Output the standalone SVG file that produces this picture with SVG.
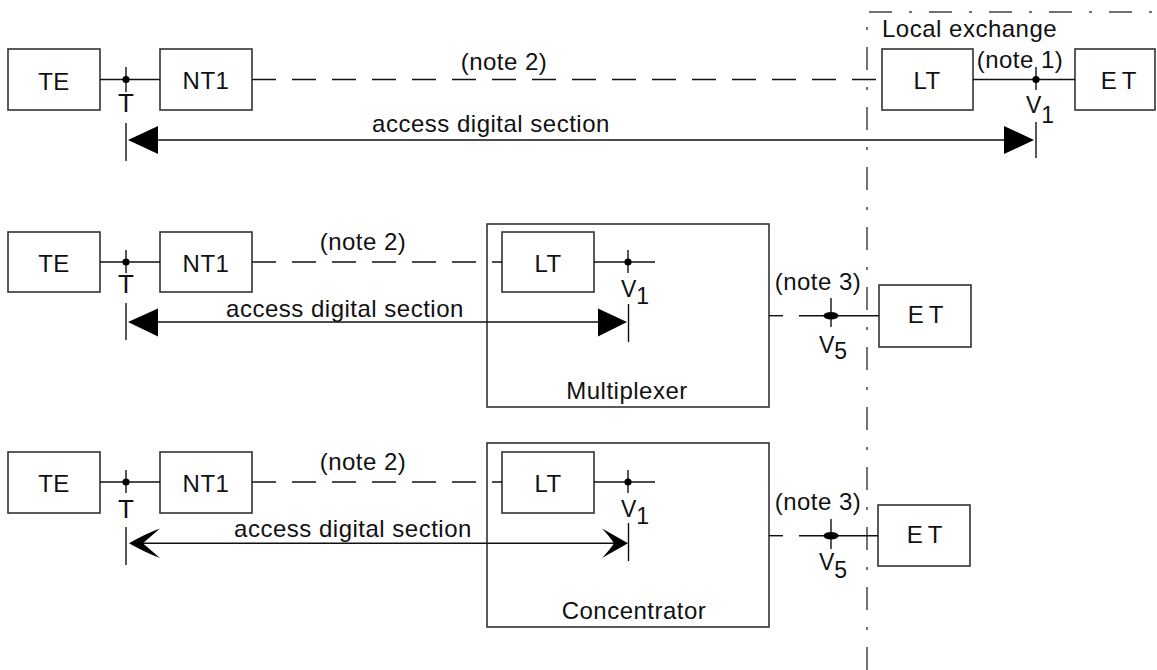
<svg xmlns="http://www.w3.org/2000/svg" width="1157" height="670" viewBox="0 0 1157 670">
  <defs>
    <style>
      .box { fill: #fff; stroke: #333; stroke-width: 1.6; }
      .ln { stroke: #111; stroke-width: 1.4; fill: none; }
      .dash { stroke: #111; stroke-width: 1.4; fill: none; stroke-dasharray: 24 16; }
      .dashdot { stroke: #444; stroke-width: 1.5; fill: none; stroke-dasharray: 23 17 3 17; }
      .t { font-family: "Liberation Sans", Arial, sans-serif; font-size: 24px; fill: #111; letter-spacing: 0.5px; }
      .c { text-anchor: middle; }
      .sp { letter-spacing: 5px; }
      .lbl { font-family: "Liberation Sans", Arial, sans-serif; font-size: 23px; fill: #111; }
      .big { font-size: 26px; }
      .head { fill: #000; stroke: none; }
    </style>
  </defs>

  <!-- exchange boundary (dash-dot) -->
  <g id="exchange-boundary">
    <path class="dashdot" d="M867,670 V12 H1157"/>
    <text class="t" x="882" y="37">Local exchange</text>
  </g>

  <!-- ===== row 1: direct access to local exchange ===== -->
  <g id="r1-te"><rect class="box" x="8" y="49" width="92" height="61"/><text class="t c" x="54" y="90">TE</text></g>
  <g id="r1-nt1"><rect class="box" x="160" y="49" width="92" height="61"/><text class="t c" x="206" y="89">NT1</text></g>
  <g id="r1-lt"><rect class="box" x="882" y="49" width="91" height="61"/><text class="t c" x="927" y="89">LT</text></g>
  <g id="r1-et"><rect class="box" x="1075" y="49" width="80" height="61"/><text class="t c sp" x="1121" y="89">ET</text></g>

  <!-- ===== row 2: multiplexer ===== -->
  <g id="r2-te"><rect class="box" x="8" y="232" width="92" height="60"/><text class="t c" x="54" y="272">TE</text></g>
  <g id="r2-nt1"><rect class="box" x="160" y="232" width="92" height="60"/><text class="t c" x="206" y="272">NT1</text></g>
  <g id="r2-mux"><rect class="box" x="487" y="224" width="282" height="183"/><text class="t c" x="627" y="399">Multiplexer</text></g>
  <g id="r2-lt"><rect class="box" x="502" y="232" width="92" height="60"/><text class="t c" x="548" y="272">LT</text></g>
  <g id="r2-et"><rect class="box" x="879" y="285" width="92" height="62"/><text class="t c sp" x="928" y="323">ET</text></g>

  <!-- ===== row 3: concentrator ===== -->
  <g id="r3-te"><rect class="box" x="8" y="452" width="92" height="61"/><text class="t c" x="54" y="492">TE</text></g>
  <g id="r3-nt1"><rect class="box" x="160" y="452" width="92" height="61"/><text class="t c" x="206" y="492">NT1</text></g>
  <g id="r3-conc"><rect class="box" x="487" y="443" width="282" height="184"/><text class="t c" x="634" y="619">Concentrator</text></g>
  <g id="r3-lt"><rect class="box" x="502" y="452" width="92" height="61"/><text class="t c" x="548" y="492">LT</text></g>
  <g id="r3-et"><rect class="box" x="878" y="505" width="92" height="61"/><text class="t c sp" x="927" y="543">ET</text></g>

  <!-- connectors, reference points and section arrows -->
  <g id="connectors">
    <!-- row 1 -->
    <line class="ln" x1="100" y1="79.5" x2="160" y2="79.5"/>
    <line class="dash" x1="252" y1="79.5" x2="882" y2="79.5"/>
    <line class="ln" x1="973" y1="79.5" x2="1075" y2="79.5"/>
    <!-- row 2 -->
    <line class="ln" x1="100" y1="262" x2="160" y2="262"/>
    <line class="dash" x1="252" y1="262" x2="502" y2="262"/>
    <line class="ln" x1="594" y1="262" x2="655" y2="262"/>
    <line class="ln" x1="769" y1="315.7" x2="783" y2="315.7"/>
    <line class="ln" x1="799" y1="315.7" x2="879" y2="315.7"/>
    <!-- row 3 -->
    <line class="ln" x1="100" y1="482" x2="160" y2="482"/>
    <line class="dash" x1="252" y1="482" x2="502" y2="482"/>
    <line class="ln" x1="594" y1="482" x2="655" y2="482"/>
    <line class="ln" x1="769" y1="535.7" x2="783" y2="535.7"/>
    <line class="ln" x1="799" y1="535.7" x2="878" y2="535.7"/>

    <!-- reference point T -->
    <g id="ref-t">
      <line class="ln" x1="126" y1="67" x2="126" y2="92"/><circle cx="126" cy="79.5" r="3.6"/>
      <line class="ln" x1="126" y1="250" x2="126" y2="273"/><circle cx="126" cy="262" r="3.6"/>
      <line class="ln" x1="126" y1="470" x2="126" y2="493"/><circle cx="126" cy="482" r="3.6"/>
    </g>
    <!-- reference point V1 -->
    <g id="ref-v1">
      <line class="ln" x1="1036" y1="67" x2="1036" y2="90"/><circle cx="1036" cy="79.5" r="3.6"/>
      <line class="ln" x1="628" y1="250" x2="628" y2="273"/><circle cx="628" cy="262" r="3.6"/>
      <line class="ln" x1="628" y1="470" x2="628" y2="493"/><circle cx="628" cy="482" r="3.6"/>
    </g>
    <!-- reference point V5 -->
    <g id="ref-v5">
      <line class="ln" x1="831" y1="298" x2="831" y2="327"/><ellipse cx="831" cy="315.7" rx="7.5" ry="3.8"/>
      <line class="ln" x1="831" y1="519" x2="831" y2="549"/><ellipse cx="831" cy="535.7" rx="7.5" ry="3.8"/>
    </g>

    <!-- access digital section, row 1 -->
    <line class="ln" x1="126" y1="123" x2="126" y2="161"/>
    <line class="ln" x1="1036" y1="122" x2="1036" y2="158"/>
    <line class="ln" x1="150" y1="140" x2="1010" y2="140"/>
    <path class="head" d="M128,140 L158,126 L158,154 Z"/>
    <path class="head" d="M1034,140 L1004,126 L1004,154 Z"/>
    <!-- access digital section, row 2 -->
    <line class="ln" x1="126" y1="303" x2="126" y2="340"/>
    <line class="ln" x1="628.5" y1="304" x2="628.5" y2="342"/>
    <line class="ln" x1="150" y1="322" x2="605" y2="322"/>
    <path class="head" d="M128,322 L158,308.5 L158,336.5 Z"/>
    <path class="head" d="M627,322 L598,308.5 L598,336.5 Z"/>
    <!-- access digital section, row 3 (open arrowheads) -->
    <line class="ln" x1="126" y1="527" x2="126" y2="565"/>
    <line class="ln" x1="628.5" y1="523" x2="628.5" y2="561"/>
    <line class="ln" x1="140" y1="543.3" x2="615" y2="543.3"/>
    <path class="head" d="M129,543.3 Q146,533.5 160,528.5 Q150,537 143,543.3 Q150,549.6 160,558 Q146,553 129,543.3 Z"/>
    <path class="head" d="M628,543.3 Q611,533.5 602,528.5 Q610,537 614,543.3 Q610,549.6 602,558 Q611,553 628,543.3 Z"/>
  </g>

  <!-- labels -->
  <g id="labels">
    <text class="lbl big c" x="126" y="112">T</text>
    <text class="lbl big c" x="126" y="293">T</text>
    <text class="lbl big c" x="126" y="518">T</text>

    <text class="lbl" x="1026" y="113">V<tspan dy="10">1</tspan></text>
    <text class="lbl" x="621" y="297">V<tspan dy="7">1</tspan></text>
    <text class="lbl" x="621" y="517">V<tspan dy="7">1</tspan></text>
    <text class="lbl" x="819" y="353">V<tspan dy="6">5</tspan></text>
    <text class="lbl" x="819" y="570">V<tspan dy="8">5</tspan></text>

    <text class="t c" x="504" y="70">(note 2)</text>
    <text class="t c" x="363" y="250">(note 2)</text>
    <text class="t c" x="363" y="470">(note 2)</text>
    <text class="t c" x="1020" y="68">(note 1)</text>
    <text class="t c" x="818" y="290">(note 3)</text>
    <text class="t c" x="818" y="510">(note 3)</text>

    <text class="t c" x="491" y="132">access digital section</text>
    <text class="t c" x="345" y="317">access digital section</text>
    <text class="t c" x="353" y="537">access digital section</text>
  </g>
</svg>
